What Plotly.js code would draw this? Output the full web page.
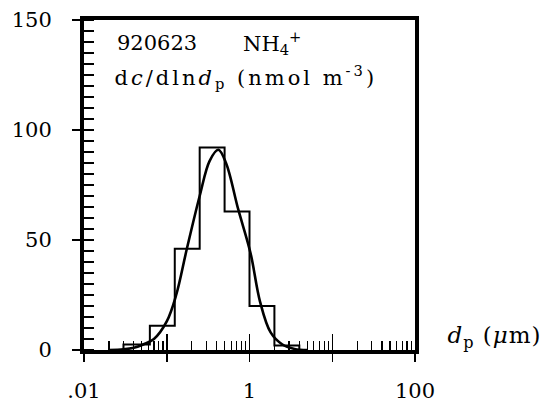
<!DOCTYPE html>
<html>
<head>
<meta charset="utf-8">
<script src="https://cdn.plot.ly/plotly-3.0.1.min.js"></script>
<style>html,body{margin:0;padding:0;background:#fff;}#chart{width:549px;height:403px;}</style>
</head>
<body>
<div id="chart"></div>
<script>
// Impactor stage boundaries (µm) and stage values dc/dln dp (nmol m^-3)
const binEdges = [0.03, 0.0625, 0.125, 0.25, 0.5, 1, 2, 4];
const binValues = [2.5, 11, 46, 92, 63, 20, 2];

// Fitted log-normal curve
const curveX = [0.02, 0.03, 0.04, 0.052, 0.07, 0.1, 0.13, 0.175, 0.25, 0.33, 0.42, 0.52, 0.73, 1.03, 1.34, 1.8, 2.5, 3.5, 5];
const curveY = [0, 0.3, 1, 2.5, 5, 13, 25, 46, 70, 86, 91, 85, 64, 44, 22, 8, 2.5, 0.5, 0];

const xMajorTicks = [0.01, 0.1, 1, 10, 100];
const xMajorLabels = ['.01', '', '1', '', '100'];
const yMajorTicks = [0, 50, 100, 150];
const yMajorLabels = ['0', '50', '100', '150'];

// step outline built from the bins
const stepX = [binEdges[0]], stepY = [0];
for (let i = 0; i < binValues.length; i++) {
  stepX.push(binEdges[i], binEdges[i + 1]);
  stepY.push(binValues[i], binValues[i]);
}
stepX.push(binEdges[binEdges.length - 1]); stepY.push(0);

const xMinor = [];
for (let e = -2; e < 2; e++) for (let m = 2; m <= 9; m++) xMinor.push(m * Math.pow(10, e));
const yMinor = [];
for (let v = 0; v <= 150; v += 5) yMinor.push(v);

const FONT = 'DejaVu Serif, serif';

const traces = [
  {x: stepX, y: stepY, type: 'scatter', mode: 'lines', line: {color: '#000', width: 2}, hoverinfo: 'skip'},
  {x: curveX, y: curveY, type: 'scatter', mode: 'lines', line: {color: '#000', width: 2.6, shape: 'spline', smoothing: 1}, hoverinfo: 'skip'},
  {x: [], y: [], xaxis: 'x2', yaxis: 'y', type: 'scatter', mode: 'lines', hoverinfo: 'skip'}
];

const layout = {
  width: 549, height: 403,
  margin: {l: 84, r: 134, t: 20, b: 53},
  paper_bgcolor: '#fff', plot_bgcolor: '#fff',
  showlegend: false,
  font: {family: FONT, color: '#000', size: 21},
  xaxis: {
    type: 'log', range: [-2, 2], showline: true, linewidth: 4, linecolor: '#000', mirror: true,
    ticks: 'outside', tickvals: xMajorTicks, ticktext: xMajorLabels, ticklen: 8, tickwidth: 1.5, tickcolor: '#000',
    showgrid: false, zeroline: false, ticklabelstandoff: 11,
    tickfont: {family: FONT, size: 21, color: '#000'}
  },
  xaxis2: {
    type: 'log', range: [-2, 2], overlaying: 'x', anchor: 'y', side: 'bottom', showline: false,
    ticks: 'inside', tickvals: xMajorTicks, ticklen: 16, tickwidth: 1.5, tickcolor: '#000', showticklabels: false,
    minor: {ticks: 'inside', tickvals: xMinor, ticklen: 9, tickwidth: 1.2, tickcolor: '#000'},
    showgrid: false, zeroline: false
  },
  yaxis: {
    range: [0, 150], showline: true, linewidth: 4, linecolor: '#000', mirror: true,
    ticks: 'outside', tickvals: yMajorTicks, ticktext: yMajorLabels, ticklen: 8, tickwidth: 1.5, tickcolor: '#000',
    minor: {ticks: 'inside', tickvals: yMinor, ticklen: 10, tickwidth: 1.5, tickcolor: '#000'},
    showgrid: false, zeroline: false, ticklabelstandoff: 16,
    tickfont: {family: FONT, size: 21, color: '#000'}
  },
  annotations: [
    {xref: 'paper', yref: 'paper', x: 0.094, y: 0.93, xanchor: 'left', yanchor: 'middle', showarrow: false,
     text: '920623', font: {family: FONT, size: 21, color: '#000'}},
    {xref: 'paper', yref: 'paper', x: 0.475, y: 0.93, xanchor: 'left', yanchor: 'middle', showarrow: false,
     text: 'NH<sub>4</sub><sup>+</sup>', font: {family: FONT, size: 21, color: '#000'}},
    {xref: 'paper', yref: 'paper', x: 0.171, y: 0.827, xanchor: 'left', yanchor: 'middle', showarrow: false,
     text: 'd<i>c</i>/dln<i>d</i><sub>p</sub> (nmol m<sup>-3</sup>)', font: {family: FONT, size: 21, color: '#000'}},
    {xref: 'paper', yref: 'paper', x: 1.102, y: 0.04, xanchor: 'left', yanchor: 'middle', showarrow: false,
     text: '<i>d</i><sub>p</sub> (<i>μ</i>m)', font: {family: FONT, size: 23, color: '#000'}}
  ]
};

Plotly.newPlot('chart', traces, layout, {staticPlot: true, displayModeBar: false}).then(function (gd) {
  const ann = gd.querySelectorAll('.annotation-text');
  if (ann[2]) ann[2].setAttribute('letter-spacing', '3px');
  if (ann[3]) ann[3].setAttribute('letter-spacing', '1px');
});
</script>
</body>
</html>
